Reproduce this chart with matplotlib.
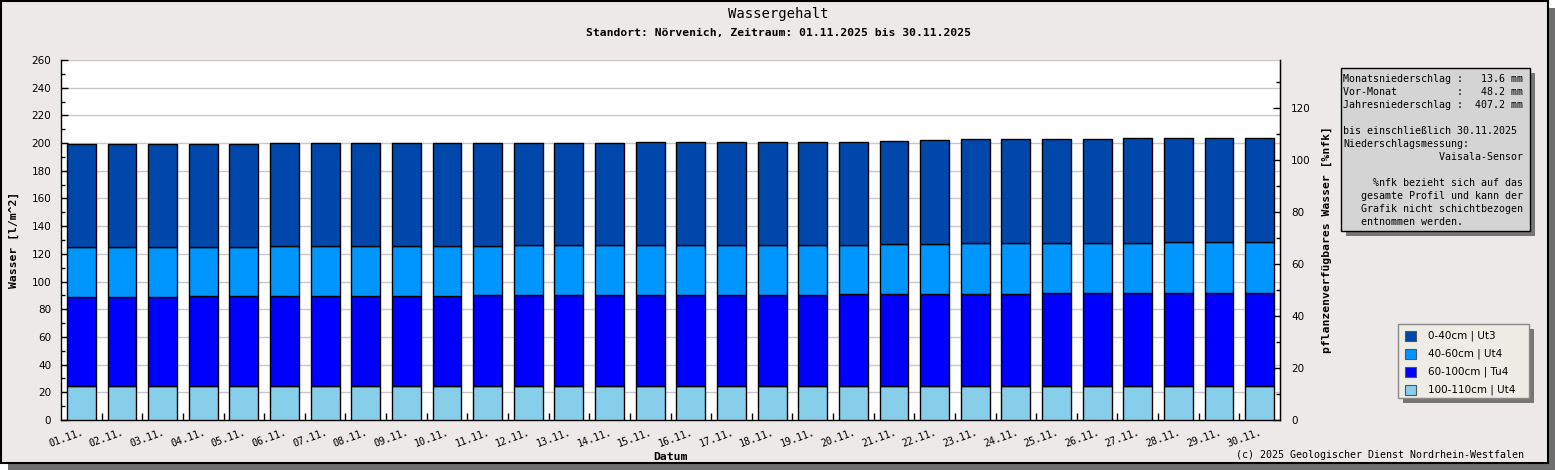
import matplotlib
matplotlib.use("Agg")
import matplotlib.pyplot as plt
from matplotlib.patches import Rectangle
from matplotlib.ticker import MultipleLocator, FixedLocator
import numpy as np

# ---------------- data ----------------
days = [f"{d:02d}.11." for d in range(1, 31)]

# water content per layer [l/m^2]
layer_100_110 = [24.8] * 30
layer_60_100 = [64.0, 64.0, 64.0, 64.8, 64.8, 64.8, 64.8, 64.8, 64.8, 64.8,
                65.5, 65.5, 65.5, 65.5, 65.5, 65.5, 65.5, 65.5, 65.5, 66.2,
                66.2, 66.2, 66.2, 66.2, 66.9, 66.9, 66.9, 66.9, 66.9, 66.9]
layer_40_60 = [36.4, 36.4, 36.4, 35.6, 35.6, 36.3, 36.3, 36.3, 36.3, 36.3,
               35.6, 36.3, 36.3, 36.3, 36.3, 36.3, 36.3, 36.3, 36.3, 35.6,
               36.3, 36.3, 37.1, 37.1, 36.4, 36.4, 36.4, 37.1, 37.1, 37.1]
layer_0_40 = [74.0, 74.0, 74.0, 74.0, 74.0, 74.0, 74.0, 74.0, 74.0, 74.0,
              74.0, 73.3, 73.3, 73.3, 74.0, 74.0, 74.0, 74.0, 74.0, 74.0,
              73.9, 74.7, 74.6, 74.6, 74.6, 74.6, 75.3, 74.6, 74.6, 74.6]

layer_labels = ["0-40cm | Ut3", "40-60cm | Ut4", "60-100cm | Tu4", "100-110cm | Ut4"]
layer_colors = ["#0047AB", "#0096FF", "#0000FF", "#87CEEB"]

left_ticks = list(range(0, 261, 20))
right_ticks = list(range(0, 121, 20))
nfk_top = 138.46  # %nFK corresponding to 260 l/m^2

info_lines = [
    "Monatsniederschlag :   13.6 mm",
    "Vor-Monat          :   48.2 mm",
    "Jahresniederschlag :  407.2 mm",
    "",
    "bis einschließlich 30.11.2025",
    "Niederschlagsmessung:",
    "                Vaisala-Sensor",
    "",
    "     %nfk bezieht sich auf das",
    "   gesamte Profil und kann der",
    "   Grafik nicht schichtbezogen",
    "   entnommen werden.",
]

# ---------------- figure ----------------
W, H = 1555, 470
fig = plt.figure(figsize=(W / 100, H / 100), dpi=100)
fig.patch.set_facecolor("white")

def fx(x):
    return x / W

def fy(y):
    return 1 - y / H

BG = "#ECE9E8"
MONO = "DejaVu Sans Mono"

# frame with shadow
fig.patches.append(Rectangle((fx(8), fy(470)), fx(1547), (462) / H,
                             transform=fig.transFigure, facecolor="#6E6E6E",
                             edgecolor="none", zorder=-3))
fig.patches.append(Rectangle((fx(0.5), fy(463)), fx(1547), 462.5 / H,
                             transform=fig.transFigure, facecolor=BG,
                             edgecolor="black", linewidth=1.5, zorder=-2))

ax = fig.add_axes([fx(61), fy(420), fx(1280) - fx(61), (420 - 60) / H])
ax.set_facecolor("white")

x = np.arange(1, 31)
bw = 0.71
b0 = np.zeros(30)
stack = [layer_100_110, layer_60_100, layer_40_60, layer_0_40]
cols = [layer_colors[3], layer_colors[2], layer_colors[1], layer_colors[0]]
for vals, c in zip(stack, cols):
    ax.bar(x, vals, width=bw, bottom=b0, color=c, edgecolor="black",
           linewidth=1.0, zorder=3)
    b0 = b0 + np.array(vals)

ax.set_xlim(0.5, 30.5)
ax.set_ylim(0, 260)
ax.yaxis.set_major_locator(FixedLocator(left_ticks))
ax.yaxis.set_minor_locator(MultipleLocator(10))
ax.grid(axis="y", which="major", color="#C8C8C8", linewidth=1.0, zorder=0)
ax.set_axisbelow(True)

ax.set_xticks(x)
ax.set_xticklabels(days, rotation=20, ha="right", rotation_mode="anchor",
                   family=MONO, fontsize=7.2)
ax.xaxis.set_minor_locator(FixedLocator(np.arange(1.5, 30.5, 1)))
ax.tick_params(axis="x", which="major", length=0, pad=5)
ax.tick_params(axis="x", which="minor", direction="in", length=5, width=1)
ax.tick_params(axis="y", which="major", direction="in", length=5, width=1,
               labelsize=7.5, pad=7)
ax.tick_params(axis="y", which="minor", direction="in", length=3, width=1)

for s in ["left", "bottom", "right"]:
    ax.spines[s].set_color("black")
    ax.spines[s].set_linewidth(1.0)
ax.spines["top"].set_visible(False)

ax2 = ax.twinx()
ax2.set_ylim(0, nfk_top)
ax2.yaxis.set_major_locator(FixedLocator(right_ticks))
ax2.yaxis.set_minor_locator(MultipleLocator(10))
ax2.tick_params(axis="y", which="major", direction="in", length=5, width=1,
                labelsize=7.5, pad=8)
ax2.tick_params(axis="y", which="minor", direction="in", length=3, width=1)
ax2.spines["top"].set_visible(False)
ax2.spines["left"].set_visible(False)
ax2.spines["bottom"].set_visible(False)

# titles and labels
fig.text(fx(778), fy(14), "Wassergehalt", family=MONO, fontsize=10,
         ha="center", va="center")
fig.text(fx(778), fy(33), "Standort: Nörvenich, Zeitraum: 01.11.2025 bis 30.11.2025",
         family=MONO, fontsize=8.2, fontweight="bold", ha="center", va="center")
fig.text(fx(14), fy(240), "Wasser [l/m^2]", family=MONO, fontsize=8.2,
         fontweight="bold", rotation=90, ha="center", va="center")
fig.text(fx(1327), fy(240), "pflanzenverfügbares Wasser [%nfk]", family=MONO,
         fontsize=8.2, fontweight="bold", rotation=90, ha="center", va="center")
fig.text(fx(670), fy(457), "Datum", family=MONO, fontsize=8.2,
         fontweight="bold", ha="center", va="center")
fig.text(fx(1524), fy(455), "(c) 2025 Geologischer Dienst Nordrhein-Westfalen",
         family=MONO, fontsize=7.2, ha="right", va="center")

# info box
bx0, by0, bx1, by1 = 1341, 68, 1530, 231
fig.patches.append(Rectangle((fx(bx0 + 5), fy(by1 + 5)), fx(bx1 - bx0), (by1 - by0) / H,
                             transform=fig.transFigure, facecolor="#767676",
                             edgecolor="none", zorder=1))
fig.patches.append(Rectangle((fx(bx0), fy(by1)), fx(bx1 - bx0), (by1 - by0) / H,
                             transform=fig.transFigure, facecolor="#D4D4D4",
                             edgecolor="black", linewidth=1.0, zorder=2))
for i, line in enumerate(info_lines):
    if line:
        fig.text(fx(1343), fy(79 + 13 * i), line, family=MONO, fontsize=7.2,
                 ha="left", va="center", zorder=3)

# legend
lx0, ly0, lx1, ly1 = 1398, 324, 1529, 398
fig.patches.append(Rectangle((fx(lx0 + 5), fy(ly1 + 5)), fx(lx1 - lx0), (ly1 - ly0) / H,
                             transform=fig.transFigure, facecolor="#767676",
                             edgecolor="none", zorder=1))
fig.patches.append(Rectangle((fx(lx0), fy(ly1)), fx(lx1 - lx0), (ly1 - ly0) / H,
                             transform=fig.transFigure, facecolor="#EDEDE5",
                             edgecolor="#8A8A8A", linewidth=1.0, zorder=2))
for i, (lab, c) in enumerate(zip(layer_labels, layer_colors)):
    cy = 336 + 18 * i
    fig.patches.append(Rectangle((fx(1405), fy(cy + 5.3)), fx(10.7), 10.7 / H,
                                 transform=fig.transFigure, facecolor=c,
                                 edgecolor="#555555", linewidth=0.8, zorder=3))
    fig.text(fx(1428), fy(cy), lab, fontsize=7.5, ha="left", va="center",
             zorder=3)

fig.savefig("out.png", dpi=100, facecolor=fig.get_facecolor())
